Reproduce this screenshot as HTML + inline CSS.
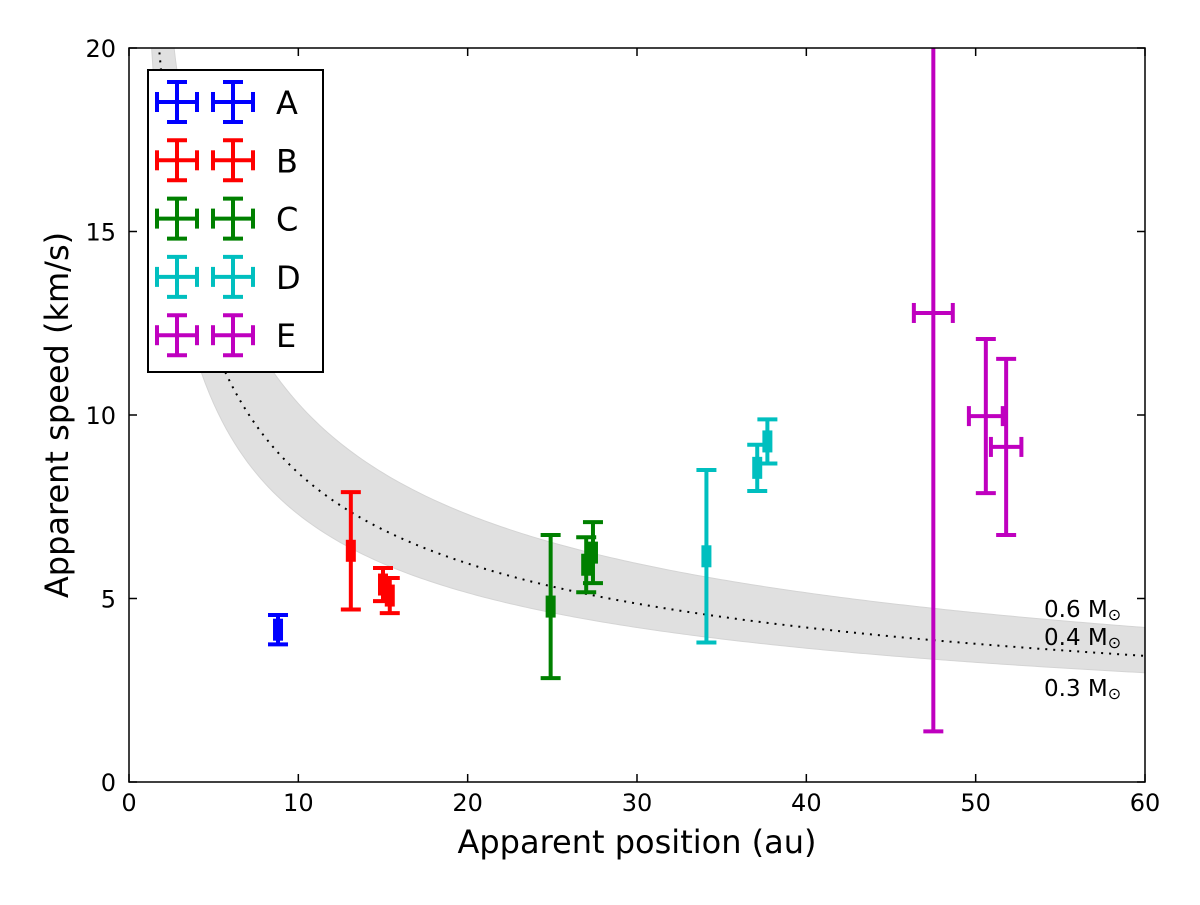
<!DOCTYPE html>
<html><head><meta charset="utf-8"><style>
body{margin:0;background:#fff;}
svg text{font-family:"DejaVu Sans","Liberation Sans",sans-serif;}
</style></head><body>
<svg id="chart" width="1200" height="900" xmlns="http://www.w3.org/2000/svg">
<defs><clipPath id="plotclip"><rect x="129" y="48" width="1016" height="734"/></clipPath></defs>
<g id="band" clip-path="url(#plotclip)"></g>
<g id="marks" clip-path="url(#plotclip)"></g>
<rect x="129" y="48" width="1016" height="734" fill="none" stroke="#000" stroke-width="1.5"/>
<g id="ticks"></g>
<text x="637" y="853" font-size="32" text-anchor="middle">Apparent position (au)</text>
<text transform="translate(68,415) rotate(-90)" font-size="32" text-anchor="middle">Apparent speed (km/s)</text>
<text x="1044" y="617" font-size="23">0.6 M<tspan font-size="16" dy="3">⊙</tspan></text>
<text x="1044" y="645" font-size="23">0.4 M<tspan font-size="16" dy="3">⊙</tspan></text>
<text x="1044" y="696" font-size="23">0.3 M<tspan font-size="16" dy="3">⊙</tspan></text>
<g id="legend"></g>
</svg>
<script>
const seriesNames=["A","B","C","D","E"];
const seriesColors=["#0000ff","#ff0000","#008000","#00bfbf","#bf00bf"];
const xA=[8.8];const yA=[4.15];const xeA=[0];const yeA=[0.4];
const xB=[13.1,15.0,15.4];const yB=[6.3,5.38,5.08];const xeB=[0,0,0];const yeB=[1.6,0.45,0.48];
const xC=[24.9,27.0,27.4];const yC=[4.78,5.92,6.25];const xeC=[0,0,0];const yeC=[1.95,0.75,0.83];
const xD=[34.1,37.1,37.7];const yD=[6.15,8.56,9.28];const xeD=[0,0,0];const yeD=[2.35,0.63,0.6];
const xE=[47.5,50.6,51.8];const yE=[12.78,9.97,9.13];const xeE=[1.15,1.0,0.9];const yeE=[11.4,2.1,2.4];
const massLow=0.3, massMid=0.4, massHigh=0.6;
const xTicks=[0,10,20,30,40,50,60];const yTicks=[0,5,10,15,20];
const NS="http://www.w3.org/2000/svg";
const X=v=>129+v*1016/60, Y=v=>782-v*734/20;
const vel=(m,r)=>42.1*Math.sqrt(m/r);
function mk(t,a,p){const e=document.createElementNS(NS,t);for(const k in a)e.setAttribute(k,a[k]);p.appendChild(e);return e;}
const band=document.getElementById('band');
let d="";const rs=[];for(let r=1;r<=60.01;r+=0.25)rs.push(r);
rs.forEach((r,i)=>{d+=(i?"L":"M")+X(r)+","+Y(vel(massHigh,r));});
rs.slice().reverse().forEach(r=>{d+="L"+X(r)+","+Y(vel(massLow,r));});
const bp=mk('path',{d:d+"Z",fill:"#e0e0e0",stroke:"#d4d4d4","stroke-width":1},band);


let dl="";rs.forEach((r,i)=>{dl+=(i?"L":"M")+X(r)+","+Y(vel(massMid,r));});
const ml=mk('path',{d:dl,fill:"none",stroke:"#000","stroke-width":2,"stroke-dasharray":"2,6"},band);


const data=[[xA,yA,xeA,yeA],[xB,yB,xeB,yeB],[xC,yC,xeC,yeC],[xD,yD,xeD,yeD],[xE,yE,xeE,yeE]];
const marks=document.getElementById('marks');
function errbar(g,cx,cy,x0,x1,y0,y1,c){
  mk('line',{x1:cx,y1:y0,x2:cx,y2:y1,stroke:c,"stroke-width":4},g);
  mk('line',{x1:cx-10,y1:y0,x2:cx+10,y2:y0,stroke:c,"stroke-width":4},g);
  mk('line',{x1:cx-10,y1:y1,x2:cx+10,y2:y1,stroke:c,"stroke-width":4},g);
  if(x1-x0>2){
    mk('line',{x1:x0,y1:cy,x2:x1,y2:cy,stroke:c,"stroke-width":4},g);
    mk('line',{x1:x0,y1:cy-10,x2:x0,y2:cy+10,stroke:c,"stroke-width":4},g);
    mk('line',{x1:x1,y1:cy-10,x2:x1,y2:cy+10,stroke:c,"stroke-width":4},g);
  }
}
data.forEach((s,si)=>{
  s[0].forEach((xv,i)=>{
    const g=mk('g',{},marks);
    
    
    const c=seriesColors[si],cx=X(xv),cy=Y(s[1][i]);
    errbar(g,cx,cy,X(xv-s[2][i]),X(xv+s[2][i]),Y(s[1][i]+s[3][i]),Y(s[1][i]-s[3][i]),c);
    if(s[2][i]===0) mk('rect',{x:cx-5,y:cy-11,width:10,height:22,fill:c},g);
  });
});
const tk=document.getElementById('ticks');
xTicks.forEach(v=>{
  const g=mk('g',{},tk);
  
  
  mk('line',{x1:X(v),y1:782,x2:X(v),y2:774,stroke:"#000","stroke-width":1.5},g);
  mk('line',{x1:X(v),y1:48,x2:X(v),y2:56,stroke:"#000","stroke-width":1.5},g);
  const t=mk('text',{x:X(v),y:811,"font-size":24,"text-anchor":"middle"},g);t.textContent=v;
});
yTicks.forEach(v=>{
  const g=mk('g',{},tk);
  
  
  mk('line',{x1:129,y1:Y(v),x2:137,y2:Y(v),stroke:"#000","stroke-width":1.5},g);
  mk('line',{x1:1145,y1:Y(v),x2:1137,y2:Y(v),stroke:"#000","stroke-width":1.5},g);
  const t=mk('text',{x:116,y:Y(v)+9,"font-size":24,"text-anchor":"end"},g);t.textContent=v;
});
const lg=document.getElementById('legend');
mk('rect',{x:148,y:70,width:175,height:302,fill:"#fff",stroke:"#000","stroke-width":2},lg);
seriesNames.forEach((n,i)=>{
  const g=mk('g',{},lg);
  
  
  const cy=102+i*58.3,c=seriesColors[i];
  [177,233].forEach(cx=>errbar(g,cx,cy,cx-20,cx+20,cy-20,cy+20,c));
  const t=mk('text',{x:276,y:cy+12,"font-size":32},g);t.textContent=n;
});
</script>
</body></html>
